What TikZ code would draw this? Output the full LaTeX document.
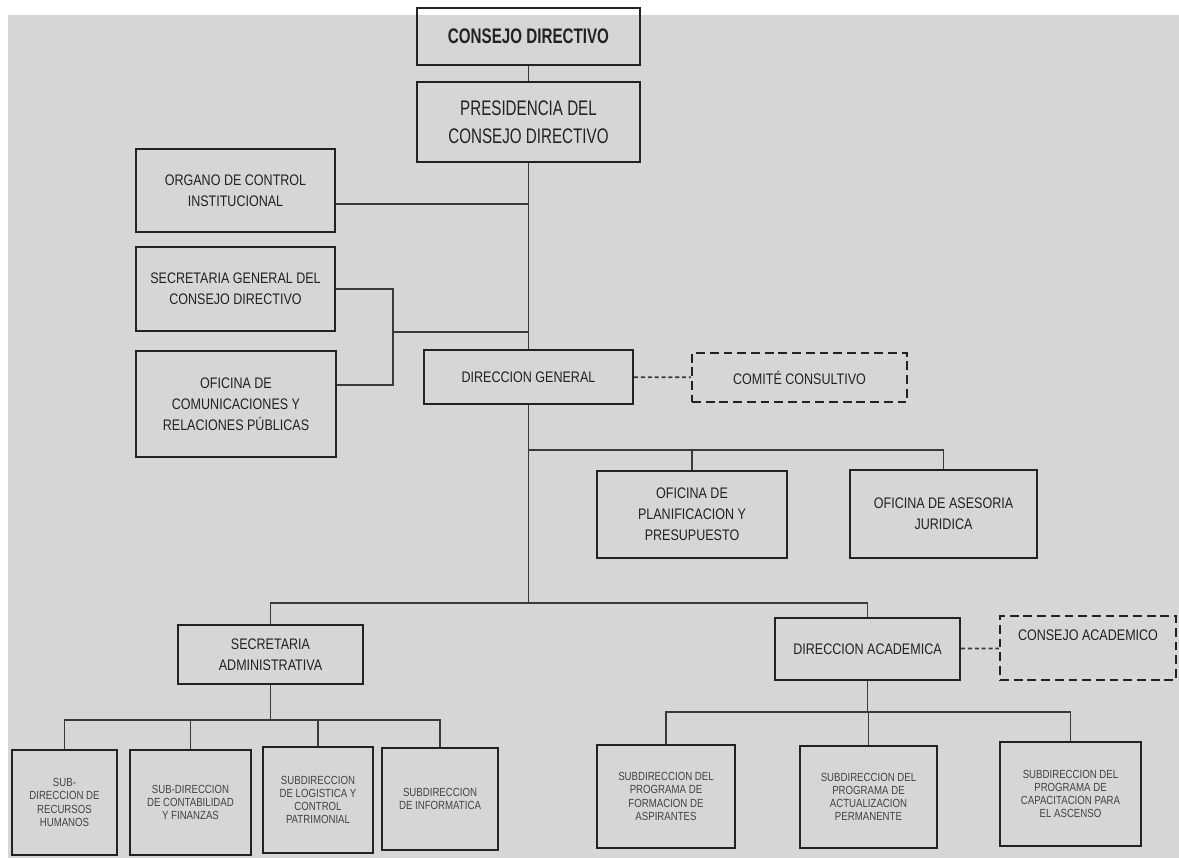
\documentclass[tikz,border=0pt]{standalone}
\usepackage{fontspec}
\setmainfont{Liberation Sans}[FakeStretch=0.82]
\newfontfamily\headfont{Liberation Sans}[FakeStretch=0.72]
\definecolor{paper}{RGB}{214,214,214}
\definecolor{ink}{RGB}{34,34,34}
\definecolor{wire}{RGB}{58,58,58}
\tikzset{
  unit/.style={draw=ink, line width=1.3pt, align=center, inner sep=2pt, text=ink,
    font=\fontsize{8.7}{12}\selectfont},
  head/.style={unit, font=\headfont\fontsize{12}{16}\selectfont},
  small/.style={unit, line width=1.2pt, text=ink!85, font=\fontsize{6.7}{7.5}\selectfont},
  advisory/.style={unit, dash pattern=on 5pt off 2.8pt},
  size/.style 2 args={minimum width=#1cm, minimum height=#2cm},
  link/.style={draw=wire, line width=1pt},
  dlink/.style={link, dash pattern=on 2.3pt off 1.6pt},
}
\begin{document}
\begin{tikzpicture}[x=0.02cm, y=-0.02cm]
    \useasboundingbox (0,0) rectangle (1179,858);
    \fill[white] (0,0) rectangle (1179,858);
    \fill[paper] (8,15) rectangle (1179,858);

    \node[head, size={4.46}{1.14}, font=\headfont\bfseries\fontsize{12}{16}\selectfont] (consejo) at (528.5,36.5) {CONSEJO DIRECTIVO};
    \node[head, size={4.46}{1.6}] (presidencia) at (528.5,122) {PRESIDENCIA DEL\\CONSEJO DIRECTIVO};
    \node[unit, size={3.98}{1.66}] (organo) at (235.5,190.5) {ORGANO DE CONTROL\\INSTITUCIONAL};
    \node[unit, size={3.98}{1.68}] (secgen) at (235.5,289) {SECRETARIA GENERAL DEL\\CONSEJO DIRECTIVO};
    \node[unit, size={4.0}{2.12}] (comunic) at (236,404) {OFICINA DE\\COMUNICACIONES Y\\RELACIONES PÚBLICAS};
    \node[unit, size={4.18}{1.08}] (dirgen) at (528.5,377) {DIRECCION GENERAL};
    \node[advisory, size={4.3}{0.98}] (comite) at (799.5,377.5) {COMITÉ CONSULTIVO};
    \node[unit, size={3.8}{1.74}] (planif) at (692,514.5) {OFICINA DE\\PLANIFICACION Y\\PRESUPUESTO};
    \node[unit, size={3.74}{1.76}] (asesoria) at (943.5,514) {OFICINA DE ASESORIA\\JURIDICA};
    \node[unit, size={3.7}{1.18}] (secadm) at (270.5,654.5) {SECRETARIA\\ADMINISTRATIVA};
    \node[unit, size={3.7}{1.24}] (diracad) at (867.5,649) {DIRECCION ACADEMICA};
    \node[advisory, size={3.52}{1.28}, text depth=0.5cm] (conacad) at (1088,648) {CONSEJO ACADEMICO};

    \node[small, size={2.1}{2.1}] (subrrhh) at (64.5,802.5) {SUB-\\DIRECCION DE\\RECURSOS\\HUMANOS};
    \node[small, size={2.42}{2.1}] (subconta) at (190.5,802.5) {SUB-DIRECCION\\DE CONTABILIDAD\\Y FINANZAS};
    \node[small, size={2.2}{2.12}] (sublogis) at (318,800) {SUBDIRECCION\\DE LOGISTICA Y\\CONTROL\\PATRIMONIAL};
    \node[small, size={2.32}{2.04}] (subinfo) at (440,799) {SUBDIRECCION\\DE INFORMATICA};
    \node[small, size={2.76}{2.06}] (subform) at (666,796.5) {SUBDIRECCION DEL\\PROGRAMA DE\\FORMACION DE\\ASPIRANTES};
    \node[small, size={2.74}{2.04}] (subactu) at (868.5,797) {SUBDIRECCION DEL\\PROGRAMA DE\\ACTUALIZACION\\PERMANENTE};
    \node[small, size={2.82}{2.08}] (subcapa) at (1070.5,794) {SUBDIRECCION DEL\\PROGRAMA DE\\CAPACITACION PARA\\EL ASCENSO};

    \coordinate (oci) at (528.5,204);
    \coordinate (brk) at (393,332);
    \coordinate (ofi) at (528.5,450);
    \coordinate (spine) at (528.5,603);
    \coordinate (adm) at (270.5,720);
    \coordinate (aca) at (867.5,712);

    \draw[link] (consejo) -- (presidencia);
    \draw[link] (presidencia) -- (dirgen);
    \draw[link] ([yshift=-0.27cm]organo.east) -- (oci);
    \draw[link] (secgen.east) -| (brk) |- ([yshift=0.38cm]comunic.east);
    \draw[link] (brk) -- (brk -| presidencia.south);
    \draw[dlink] (dirgen) -- (comite);
    \draw[link] (dirgen.south) -- (spine);
    \draw[link] (ofi) -| (asesoria.north);
    \draw[link] (planif.north) -- (planif.north |- ofi);
    \draw[link] (secadm.north) |- (spine) -| (diracad.north);
    \draw[dlink] (diracad) -- (conacad);
    \draw[link] (secadm.south) -- (adm);
    \draw[link] (subrrhh.north) |- (adm) -| (subinfo.north);
    \foreach \n in {subconta,sublogis}
      \draw[link] (\n.north) -- (\n.north |- adm);
    \draw[link] (diracad.south) -- (aca);
    \draw[link] (subform.north) |- (aca) -| (subcapa.north);
    \draw[link] (subactu.north) -- (subactu.north |- aca);
\end{tikzpicture}
\end{document}
